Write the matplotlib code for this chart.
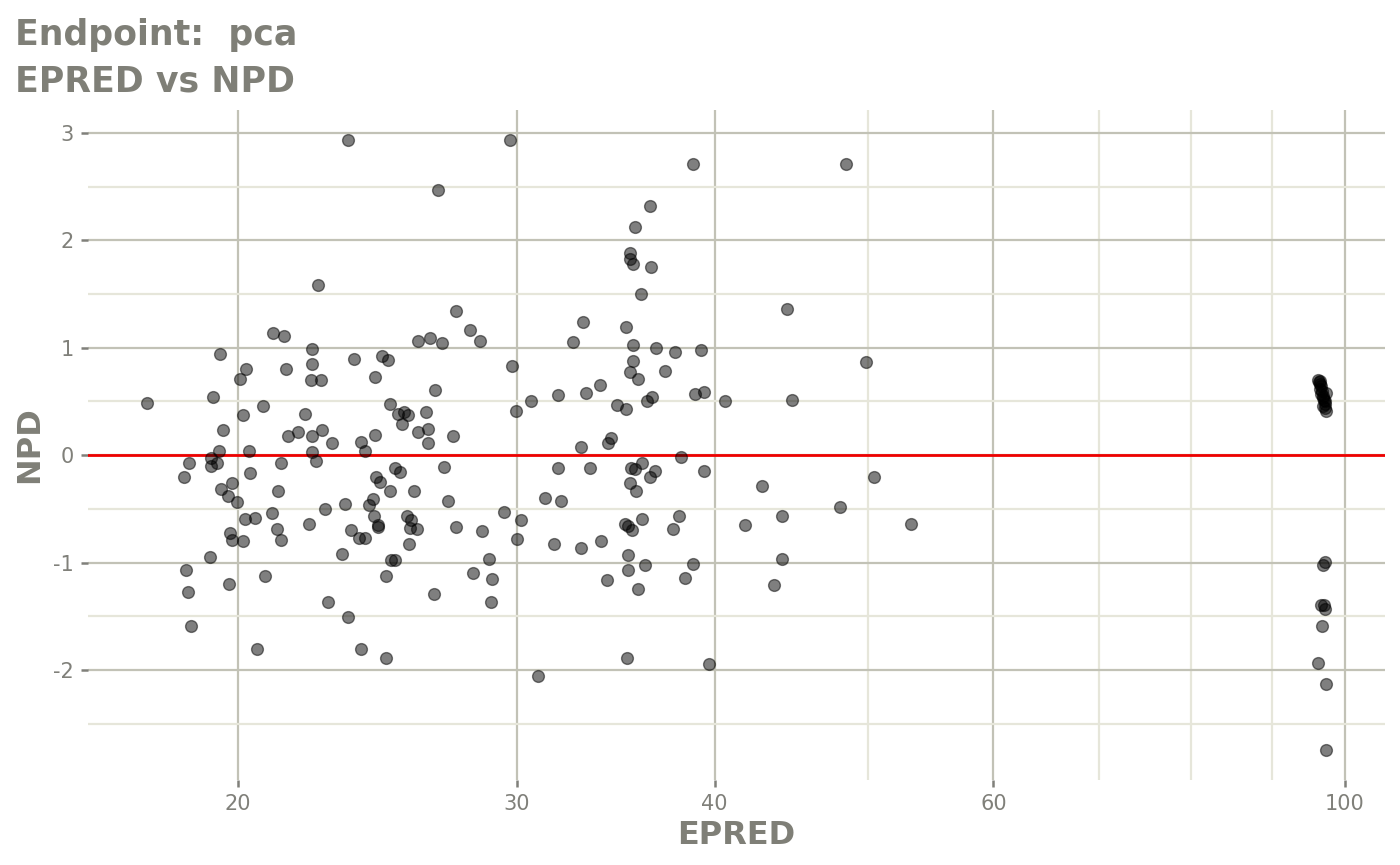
import numpy as np
import matplotlib
matplotlib.use("Agg")
import matplotlib.pyplot as plt
from matplotlib.ticker import FixedLocator, NullFormatter

plt.rcParams['axes.unicode_minus'] = False

# EPRED (x, log scale) and NPD (y)
epred = [
    23.48, 22.49, 21.04, 21.39, 22.27, 19.49, 23.70, 24.66, 24.88, 22.29,
    20.24, 21.45, 20.06, 22.25, 22.57, 24.42, 17.53, 19.29, 24.95, 20.76,
    20.17, 22.06, 19.57, 21.51, 21.82, 22.27, 22.61, 24.43, 22.93, 23.94,
    24.08, 19.46, 20.33, 22.29, 19.25, 19.41, 19.25, 18.63, 18.51, 21.31,
    22.42, 20.37, 19.51, 19.83, 19.71, 19.99, 21.20, 20.21, 20.51, 21.01,
    22.72, 23.37, 24.45, 24.61, 24.95, 24.20, 24.36, 24.38, 24.54, 24.54,
    19.77, 19.85, 20.15, 21.18, 21.31, 22.17, 23.59, 23.86, 24.05, 23.27,
    19.22, 24.83, 18.56, 20.82, 18.60, 19.74, 22.81, 23.49, 18.70, 20.57,
    23.94, 24.83,
    29.73, 26.76, 35.66, 35.36, 35.40, 35.52, 35.97, 27.49, 28.03, 33.06,
    35.17, 25.99, 26.47, 26.93, 28.45, 32.55, 35.53, 29.79, 35.55, 35.40,
    35.79, 26.66, 33.87, 33.20, 31.88, 30.65, 36.26, 25.24, 25.46, 25.62,
    25.40, 26.29, 25.99, 26.36, 26.37, 27.37, 29.96, 34.72, 35.16, 32.93,
    34.26, 34.43, 25.15, 25.31, 26.99, 25.83, 27.15, 25.57, 25.72, 25.68,
    25.94, 25.64, 27.47, 28.52, 29.47, 30.18, 30.03, 31.86, 33.38, 31.25,
    32.02, 31.68, 32.96, 33.92, 35.45, 35.66, 36.00, 35.38, 35.71, 35.11,
    35.26, 35.47, 36.00, 35.28, 35.28, 36.14, 34.19, 35.79, 25.01, 25.13,
    28.82, 28.17, 28.95, 26.59, 28.92, 35.21, 30.95,
    38.79, 48.41, 36.42, 36.46, 44.47, 36.76, 37.75, 39.21, 49.86, 37.22,
    36.55, 38.87, 39.39, 40.62, 44.77, 38.12, 36.67, 36.44, 39.38, 42.88,
    50.44, 48.01, 37.97, 37.66, 41.84, 44.15, 38.77, 38.32, 44.13, 43.60,
    39.66, 53.20,
    96.2, 96.5, 96.3, 96.4, 96.6, 96.5, 96.7, 97.3, 96.6, 96.9,
    96.8, 97.0, 97.2, 97.1, 96.9, 97.2, 97.3,
    97.13, 96.89, 96.6, 97.0, 97.2, 96.7, 96.2, 97.3, 97.3,
]
npd = [
    2.93, 1.58, 1.14, 1.11, 0.99, 0.94, 0.90, 0.92, 0.89, 0.85,
    0.80, 0.80, 0.71, 0.70, 0.70, 0.73, 0.49, 0.54, 0.48, 0.46,
    0.37, 0.38, 0.23, 0.18, 0.22, 0.18, 0.23, 0.19, 0.11, 0.12,
    0.04, 0.04, 0.04, 0.03, -0.03, -0.07, -0.10, -0.07, -0.20, -0.07,
    -0.05, -0.17, -0.31, -0.26, -0.38, -0.44, -0.33, -0.59, -0.58, -0.54,
    -0.50, -0.45, -0.20, -0.25, -0.33, -0.46, -0.41, -0.57, -0.65, -0.67,
    -0.72, -0.79, -0.80, -0.69, -0.79, -0.64, -0.70, -0.77, -0.77, -0.92,
    -0.95, -1.12, -1.07, -1.12, -1.27, -1.20, -1.37, -1.51, -1.59, -1.80,
    -1.80, -1.89,
    2.93, 2.47, 2.12, 1.88, 1.83, 1.78, 1.50, 1.34, 1.17, 1.24,
    1.19, 1.06, 1.09, 1.04, 1.06, 1.05, 1.03, 0.83, 0.88, 0.77,
    0.71, 0.61, 0.65, 0.58, 0.56, 0.50, 0.50, 0.38, 0.40, 0.37,
    0.29, 0.40, 0.22, 0.24, 0.11, 0.18, 0.41, 0.47, 0.43, 0.08,
    0.11, 0.16, -0.12, -0.16, -0.11, -0.33, -0.43, -0.57, -0.60, -0.68,
    -0.69, -0.83, -0.67, -0.71, -0.53, -0.60, -0.78, -0.12, -0.12, -0.40,
    -0.43, -0.83, -0.86, -0.80, -0.12, -0.13, -0.07, -0.26, -0.33, -0.64,
    -0.66, -0.70, -0.59, -0.93, -1.07, -1.02, -1.16, -1.25, -0.98, -0.98,
    -0.97, -1.10, -1.15, -1.29, -1.37, -1.89, -2.06,
    2.71, 2.71, 2.32, 1.75, 1.36, 1.00, 0.96, 0.98, 0.87, 0.78,
    0.54, 0.57, 0.59, 0.50, 0.51, -0.02, -0.15, -0.20, -0.15, -0.29,
    -0.20, -0.48, -0.57, -0.69, -0.65, -0.57, -1.01, -1.14, -0.97, -1.21,
    -1.94, -0.64,
    0.70, 0.69, 0.68, 0.66, 0.64, 0.62, 0.60, 0.58, 0.57, 0.55,
    0.53, 0.51, 0.50, 0.48, 0.46, 0.44, 0.41,
    -0.99, -1.02, -1.39, -1.39, -1.43, -1.59, -1.93, -2.13, -2.74,
]

x_major = [20, 30, 40, 60, 100]
x_minor = [50, 70, 80, 90]
y_major = [-2, -1, 0, 1, 2, 3]
y_minor = [-2.5, -1.5, -0.5, 0.5, 1.5, 2.5]

title_col = '#7f7f77'
tick_col = '#80807a'
major_col = '#c2c2b6'
minor_col = '#e6e6da'

fig = plt.figure(figsize=(14, 8.65), dpi=100)
ax = fig.add_axes([88 / 1400, 1 - 780 / 865, (1385 - 88) / 1400, (780 - 110) / 865])

# ggplot-style 5% expansion, log10 on x
ax.set_xscale('log')
lx = np.log10([min(epred), max(epred)])
pad = 0.05 * (lx[1] - lx[0])
ax.set_xlim(10 ** (lx[0] - pad), 10 ** (lx[1] + pad))
ypad = 0.05 * (max(npd) - min(npd))
ax.set_ylim(min(npd) - ypad, max(npd) + ypad)

ax.xaxis.set_major_locator(FixedLocator(x_major))
ax.xaxis.set_minor_locator(FixedLocator(x_minor))
ax.xaxis.set_minor_formatter(NullFormatter())
ax.set_xticklabels([str(v) for v in x_major])
ax.yaxis.set_major_locator(FixedLocator(y_major))
ax.yaxis.set_minor_locator(FixedLocator(y_minor))
ax.set_yticklabels([str(v) for v in y_major])

ax.grid(which='major', color=major_col, linewidth=1.6)
ax.grid(which='minor', color=minor_col, linewidth=1.6)
ax.set_axisbelow(True)
for s in ax.spines.values():
    s.set_visible(False)
ax.tick_params(which='major', length=5, width=1.8, color=tick_col,
               labelcolor=tick_col, labelsize=15, pad=5)
ax.tick_params(which='minor', length=0)

ax.axhline(0, color='#ee0000', linewidth=2, zorder=2)
ax.scatter(epred, npd, s=72, c='black', alpha=0.5, edgecolors='black',
           linewidths=1.0, zorder=3)

ax.set_xlabel('EPRED', fontsize=23, fontweight='bold', color=title_col)
ax.xaxis.label.set_va('center')
ax.xaxis.set_label_coords(0.5, (780 - 835) / 670)
ax.set_ylabel('NPD', fontsize=23, fontweight='bold', color=title_col)
ax.yaxis.label.set_va('center')
ax.yaxis.set_label_coords((30 - 88) / 1297, 0.5)

fig.text(15 / 1400, 1 - 45 / 865, 'Endpoint:  pca', fontsize=25, fontweight='bold',
         color=title_col, ha='left', va='baseline')
fig.text(15 / 1400, 1 - 92 / 865, 'EPRED vs NPD', fontsize=25, fontweight='bold',
         color=title_col, ha='left', va='baseline')

fig.savefig('out.png', dpi=100)
